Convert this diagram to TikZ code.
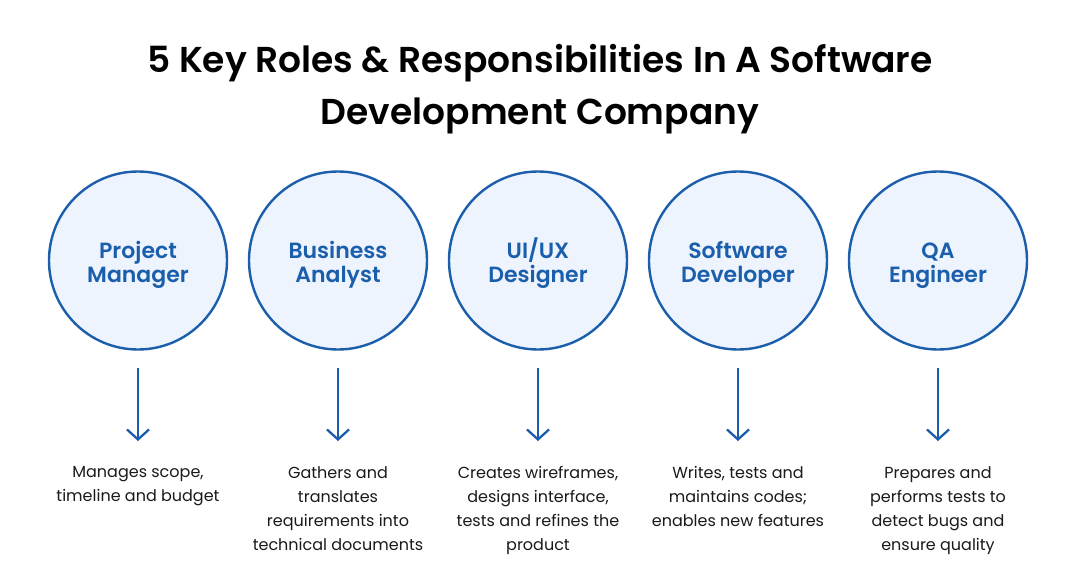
\documentclass[tikz,border=0pt]{standalone}
\usepackage{fontspec}
\setmainfont{Poppins}
\newfontfamily\semib{Poppins SemiBold}
\usetikzlibrary{arrows.meta}
\definecolor{roleblue}{HTML}{1B5EAC}
\definecolor{rolefill}{HTML}{EEF4FD}
\definecolor{desctext}{HTML}{1A1A1A}
\newcommand{\topstrut}{\raisebox{0pt}[20pt][0pt]{}}
\newcommand{\botstrut}{\raisebox{0pt}[0pt][8pt]{}}
\tikzset{
  rolecircle/.style={circle, draw=roleblue, fill=rolefill, line width=2.4pt, minimum size=178pt, inner sep=0pt},
  rolename/.style={inner sep=0pt, font=\semib\fontsize{22}{24}\selectfont, text=roleblue, align=center},
  roledesc/.style={anchor=north, inner sep=0pt, align=center, text=desctext, font=\fontsize{16}{24}\selectfont},
  rolearrow/.style={draw=roleblue, line width=2.3pt, -{Straight Barb[length=10pt,width=22pt,line width=2.3pt]}},
  titletext/.style={anchor=base, inner sep=0pt, font=\semib\fontsize{36}{40}\selectfont, text=black}
}
\begin{document}
\begin{tikzpicture}[x=1pt,y=-1pt]
\useasboundingbox[fill=white] (0,0) rectangle (1080,584);
\node[titletext] (t1) at (540,72) {5 Key Roles \& Responsibilities In A Software};
\node[titletext] (t2) at (540,124) {Development Company};
\foreach \i/\name/\desc in {
  0/{\topstrut Project\\Manager\botstrut}/{Manages scope,\\timeline and budget},
  1/{\topstrut Business\\Analyst\botstrut}/{Gathers and\\translates\\requirements into\\technical documents},
  2/{\topstrut UI/UX\\Designer\botstrut}/{Creates wireframes,\\designs interface,\\tests and refines the\\product},
  3/{\topstrut Software\\Developer\botstrut}/{Writes, tests and\\maintains codes;\\enables new features},
  4/{\topstrut QA\\Engineer\botstrut}/{Prepares and\\performs tests to\\detect bugs and\\ensure quality}}{
  \node[rolecircle] (c\i) at (138+200*\i,260.5) {};
  \node[rolename] (n\i) at (138+200*\i,264) {\name};
  \coordinate (a\i) at (138+200*\i,368);
  \coordinate (b\i) at (138+200*\i,441);
  \draw[rolearrow] (a\i) -- (b\i);
  \node[roledesc] (d\i) at (138+200*\i,466) {\desc};
}
\end{tikzpicture}
\end{document}
